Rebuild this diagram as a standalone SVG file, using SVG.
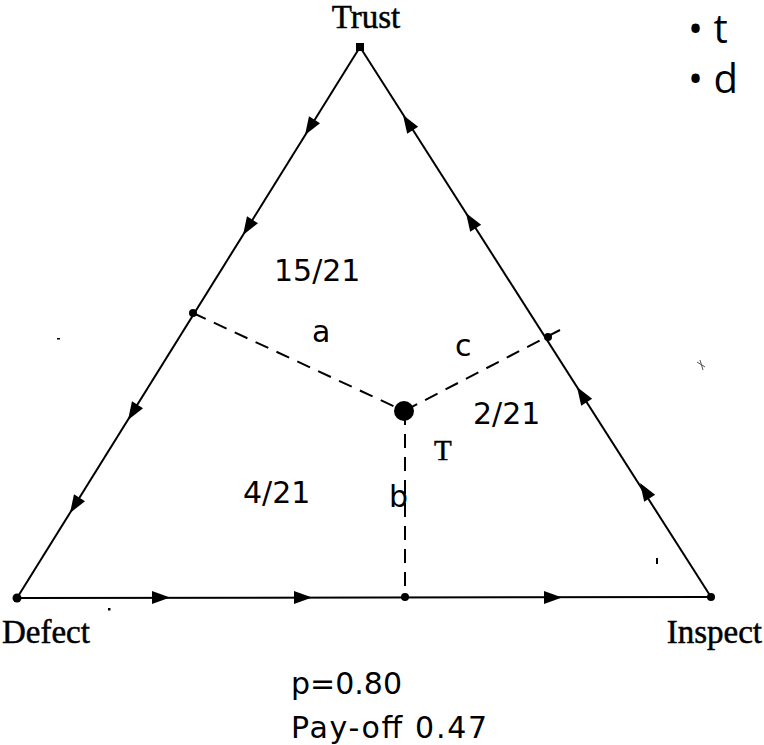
<svg xmlns="http://www.w3.org/2000/svg" width="764" height="745" viewBox="0 0 764 745">
  <style>
    .edge { stroke: #000; stroke-width: 2; fill: none; }
    .dash { stroke: #000; stroke-width: 2; fill: none; stroke-dasharray: 14 9; }
    .serif { font-family: "Liberation Serif", "Times New Roman", serif; font-size: 33px; fill: #000; stroke: #000; stroke-width: 0.5; }
    .sans { font-family: "DejaVu Sans", Verdana, sans-serif; font-size: 30px; fill: #000; }
    .bullet { font-family: "Open Sans", "DejaVu Sans", sans-serif; font-size: 40px; fill: #000; }
  </style>
  <defs>
    <path id="ah" d="M0,0 L-18,-6.5 L-18,6.5 Z" fill="#000"/>
  </defs>
  <rect width="764" height="745" fill="#fff"/>

  <g id="connectors">
    <line class="edge" x1="360" y1="47" x2="17" y2="598"/>
    <line class="edge" x1="711" y1="597" x2="360" y2="47"/>
    <line class="edge" x1="17" y1="598" x2="711" y2="597"/>
    <line class="dash" x1="193" y1="313" x2="404" y2="411"/>
    <line class="dash" x1="560" y1="330" x2="404" y2="411"/>
    <line class="dash" x1="405" y1="411" x2="405" y2="597"/>
    <use href="#ah" transform="translate(305,135) rotate(121.9)"/>
    <use href="#ah" transform="translate(243,235) rotate(121.9)"/>
    <use href="#ah" transform="translate(128,420) rotate(121.9)"/>
    <use href="#ah" transform="translate(70,513) rotate(121.9)"/>
    <use href="#ah" transform="translate(403,115) rotate(-122.5)"/>
    <use href="#ah" transform="translate(466,213) rotate(-122.5)"/>
    <use href="#ah" transform="translate(577,387) rotate(-122.5)"/>
    <use href="#ah" transform="translate(640,483) rotate(-122.5)"/>
    <use href="#ah" transform="translate(170,597.5)"/>
    <use href="#ah" transform="translate(312,597.5)"/>
    <use href="#ah" transform="translate(562,597.5)"/>
  </g>

  <g id="trust">
    <rect x="356" y="43" width="8" height="8" fill="#000"/>
    <text class="serif" x="366" y="28" text-anchor="middle">Trust</text>
  </g>
  <g id="defect">
    <circle cx="17" cy="598" r="4.5" fill="#000"/>
    <text class="serif" x="2" y="643">Defect</text>
  </g>
  <g id="inspect">
    <circle cx="711" cy="597" r="4" fill="#000"/>
    <text class="serif" x="762" y="643" text-anchor="end">Inspect</text>
  </g>
  <g id="point-a">
    <circle cx="193" cy="313" r="4" fill="#000"/>
  </g>
  <g id="point-c">
    <circle cx="548" cy="337" r="4" fill="#000"/>
  </g>
  <g id="point-b">
    <circle cx="405" cy="597" r="4" fill="#000"/>
  </g>
  <g id="center-T">
    <circle cx="404" cy="411" r="10" fill="#000"/>
    <text class="serif" x="434" y="460" style="font-size:29px">T</text>
  </g>

  <g id="labels">
    <text class="sans" x="274" y="281">15/21</text>
    <text class="sans" x="312" y="342">a</text>
    <text class="sans" x="455" y="356">c</text>
    <text class="sans" x="473" y="424">2/21</text>
    <text class="sans" x="243" y="503">4/21</text>
    <text class="sans" x="389" y="507">b</text>
    <text class="sans" x="291" y="694">p=0.80</text>
    <text class="sans" x="291" y="738" textLength="196">Pay-off 0.47</text>
  </g>

  <g id="bullets">
    <text class="bullet" x="688" y="43">• t</text>
    <text class="bullet" x="688" y="93">• d</text>
  </g>

  <g id="specks" fill="#000">
    <rect x="108" y="608" width="2.5" height="2.5"/>
    <rect x="656" y="558" width="2" height="6"/>
    <rect x="57" y="338" width="3" height="1.5"/>
    <path d="M697,362 L705,367 M700,360 L703,370" stroke="#555" stroke-width="1" fill="none"/>
  </g>
</svg>
